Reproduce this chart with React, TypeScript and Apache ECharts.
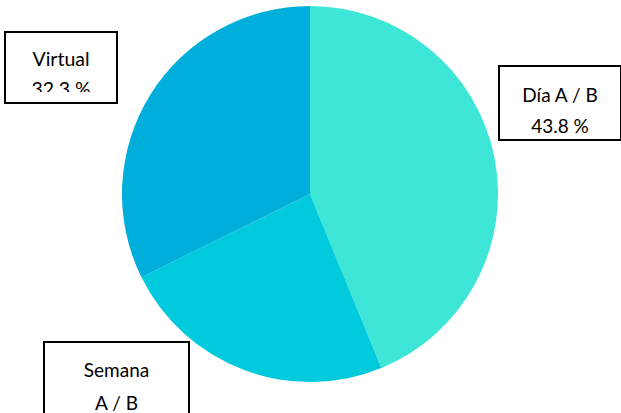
import React, { useEffect, useRef } from "react";
import * as echarts from "echarts";

const categories = ["Día A / B", "Semana A / B", "Virtual"];
const labelNames = ["Día A / B", "Semana\nA / B", "Virtual"];
const values = [43.8, 23.9, 32.3];
const colors = ["#3DE6D6", "#00CADB", "#00AEDB"];
const showPercent = [true, false, true];

// label box layout: center x, top y, width, height, padding top, line height, font size
const labelBoxes = [
  { cx: 560, top: 67, w: 120, h: 60, pt: 12, lh: 31, fs: 19 },
  { cx: 116.5, top: 343, w: 143, h: 99, pt: 10, lh: 33, fs: 19 },
  { cx: 61, top: 33, w: 110, h: 58.5, pt: 10.5, lh: 30, fs: 19.5 },
];

export default function App() {
  const ref = useRef<HTMLDivElement>(null);
  useEffect(() => {
    const chart = echarts.init(ref.current!, null, { renderer: "svg" });
    chart.setOption({
      animation: false,
      backgroundColor: "#ffffff",
      graphic: [
        {
          type: "rect",
          z: 100,
          shape: { x: 7.5, y: 92, width: 107, height: 7.5 },
          style: { fill: "#ffffff" },
        },
      ],
      series: [
        {
          type: "pie",
          center: [310, 194],
          radius: 188,
          startAngle: 90,
          clockwise: true,
          percentPrecision: 1,
          labelLine: { show: false },
          data: categories.map((name, i) => ({
            name,
            value: values[i],
            itemStyle: { color: colors[i] },
            label: {
              show: true,
              position: "outside",
              formatter: (p: any) =>
                showPercent[p.dataIndex]
                  ? `${labelNames[p.dataIndex]}\n${p.percent.toFixed(1)} %`
                  : labelNames[p.dataIndex],
              fontFamily: "Lato",
              fontSize: labelBoxes[i].fs,
              color: "#000000",
              lineHeight: labelBoxes[i].lh,
              width: labelBoxes[i].w,
              height: labelBoxes[i].h,
              padding: [labelBoxes[i].pt, 0, 0, 0],
              backgroundColor: "#ffffff",
              borderColor: "#000000",
              borderWidth: 2,
              align: "center",
            },
          })),
          labelLayout: (params: any) => {
            const b = labelBoxes[params.dataIndex];
            return { x: b.cx, y: b.top, align: "center", verticalAlign: "top" };
          },
        },
      ],
    });
    return () => chart.dispose();
  }, []);
  return (
    <div
      ref={ref}
      style={{ position: "absolute", left: 0, top: 0, width: 621, height: 413 }}
    />
  );
}
